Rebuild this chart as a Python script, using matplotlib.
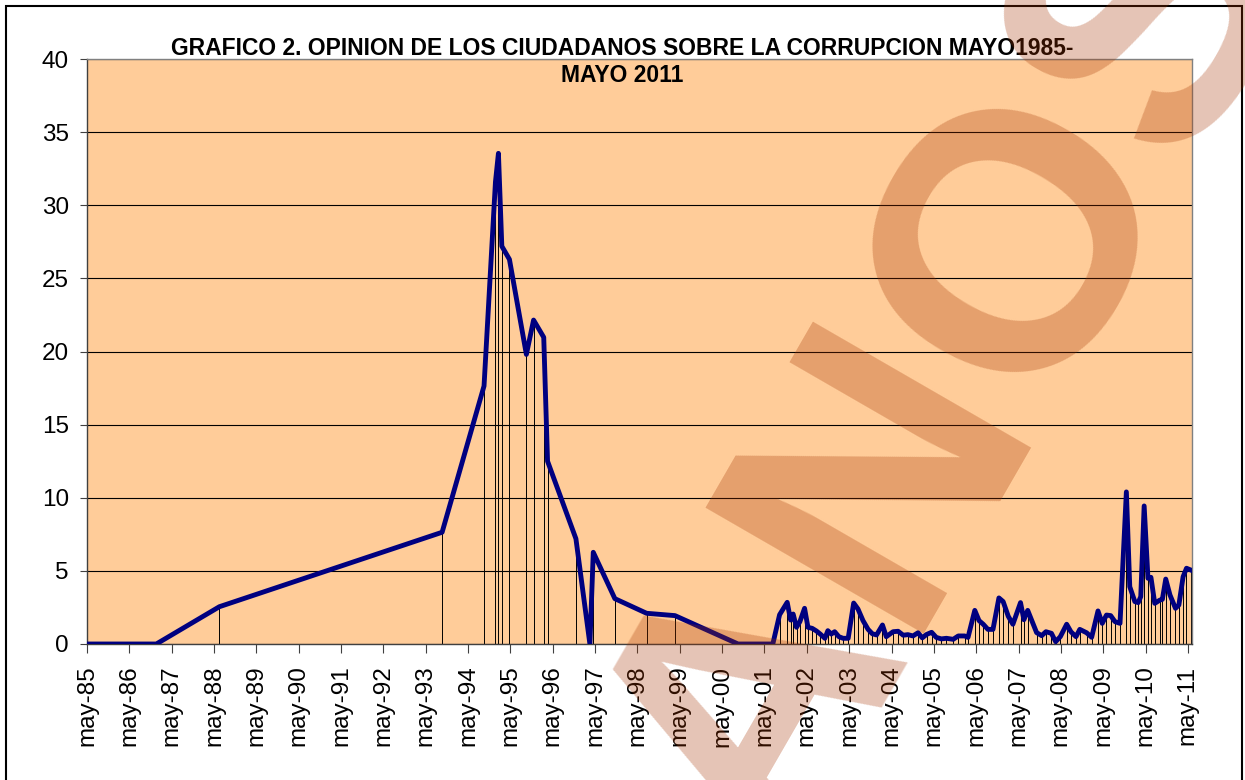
import matplotlib
matplotlib.use("Agg")
import matplotlib.pyplot as plt
from matplotlib.patches import Rectangle

plt.rcParams['font.family'] = ['Liberation Sans', 'DejaVu Sans']

# fecha en años decimales (may-85 = 1985.333) y % de ciudadanos
fecha = [1985.33, 1986.97, 1988.46, 1993.72, 1994.71, 1994.98, 1995.05, 1995.13,
         1995.31, 1995.71, 1995.88, 1996.12, 1996.21, 1996.88, 1997.21, 1997.29,
         1997.80, 1998.55, 1999.22, 2000.71, 2001.53,
         2001.69, 2001.87, 2001.95, 2002.01, 2002.09, 2002.17, 2002.28, 2002.36,
         2002.46, 2002.56, 2002.65, 2002.76, 2002.83, 2002.91, 2002.99, 2003.09,
         2003.19, 2003.31, 2003.44, 2003.54, 2003.66, 2003.78, 2003.88, 2003.98,
         2004.12, 2004.21, 2004.37, 2004.49, 2004.61, 2004.72, 2004.84, 2004.96,
         2005.06, 2005.16, 2005.28, 2005.39, 2005.51, 2005.63, 2005.79, 2005.91,
         2006.06, 2006.14, 2006.30, 2006.40, 2006.50, 2006.61, 2006.73, 2006.87,
         2006.97, 2007.09, 2007.20, 2007.38, 2007.46, 2007.55, 2007.76, 2007.88,
         2007.98, 2008.11, 2008.21, 2008.32, 2008.47, 2008.57, 2008.69, 2008.78,
         2008.94, 2009.06, 2009.21, 2009.31, 2009.41, 2009.51, 2009.61, 2009.73,
         2009.88, 2009.96, 2010.08, 2010.16, 2010.22, 2010.30, 2010.39, 2010.46,
         2010.55, 2010.67, 2010.73, 2010.81, 2010.91, 2011.04, 2011.12, 2011.22,
         2011.30, 2011.40]
valor = [0, 0, 2.55, 7.64, 17.64, 31.6, 33.55, 27.2,
         26.3, 19.8, 22.15, 20.97, 12.5, 7.2, 0, 6.27,
         3.1, 2.1, 1.94, 0, 0,
         2.0, 2.85, 1.64, 2.05, 1.14, 1.53, 2.44, 1.14,
         1.07, 0.89, 0.68, 0.39, 0.91, 0.68, 0.84, 0.5,
         0.39, 0.39, 2.8, 2.4, 1.6, 1.0, 0.7, 0.62,
         1.3, 0.5, 0.84, 0.87, 0.6, 0.64, 0.55, 0.77,
         0.42, 0.65, 0.8, 0.45, 0.35, 0.39, 0.32, 0.55,
         0.55, 0.45, 2.3, 1.6, 1.35, 1.0, 1.0, 3.15,
         2.9, 1.9, 1.35, 2.83, 1.66, 2.3, 0.78, 0.57,
         0.84, 0.73, 0.16, 0.5, 1.35, 0.84, 0.5, 1.0,
         0.77, 0.46, 2.26, 1.41, 1.98, 1.94, 1.53, 1.41,
         10.4, 3.92, 2.9, 2.83, 3.24, 9.44, 4.49, 4.56,
         2.78, 3.0, 3.05, 4.44, 3.35, 2.44, 2.67, 4.6,
         5.18, 5.06]

anios = list(range(1985, 2012))
etiquetas = ['may-%02d' % (a % 100) for a in anios]
titulo = ('GRAFICO 2. OPINION DE LOS CIUDADANOS SOBRE LA CORRUPCION MAYO1985-\n'
          'MAYO 2011')

fig = plt.figure(figsize=(12.45, 7.8), dpi=100)
ax = fig.add_axes([87/1245, 1 - 644/780, (1192-87)/1245, (644-59)/780])
ax.set_facecolor('#FFCC99')

# lineas de caida + serie
ax.vlines(fecha, 0, valor, colors='black', linewidth=0.7, zorder=2)
ax.plot(fecha, valor, color='#000080', linewidth=3.5, solid_joinstyle='round', zorder=3)

ax.set_ylim(0, 40)
ax.set_yticks(range(0, 41, 5))
ax.set_xlim(1985 + 4/12, 2011.43)
ax.set_xticks([a + 4/12 for a in anios])
ax.set_xticklabels(etiquetas, rotation=90)
ax.grid(axis='y', color='black', linewidth=0.8)
ax.set_axisbelow(True)

ax.tick_params(axis='y', labelsize=17.5, length=5, width=0.8, color='#404040', pad=8)
ax.tick_params(axis='x', labelsize=17.5, length=6.5, width=0.8, color='#404040', pad=9)
for s in ['left', 'bottom']:
    ax.spines[s].set_color('#404040')
for s in ['top', 'right']:
    ax.spines[s].set_color('#808080')
for s in ax.spines.values():
    s.set_linewidth(1)

fig.text(0.5, 1 - 37/780, titulo, ha='center', va='top', fontsize=16.5,
         fontweight='bold', linespacing=1.25)

# marco del grafico
fig.patches.append(Rectangle((6/1245, -0.02), 1236/1245, 1.02 - 6/780,
                             transform=fig.transFigure, fill=False,
                             edgecolor='black', linewidth=1.5))

# marca de agua
fig.text(0.6238, -0.1201, 'ANOS', rotation=60, rotation_mode='anchor',
         ha='left', va='baseline', fontsize=263, fontweight='bold',
         color='#A53400', alpha=0.29, zorder=10)

fig.savefig('out.png', dpi=100)
